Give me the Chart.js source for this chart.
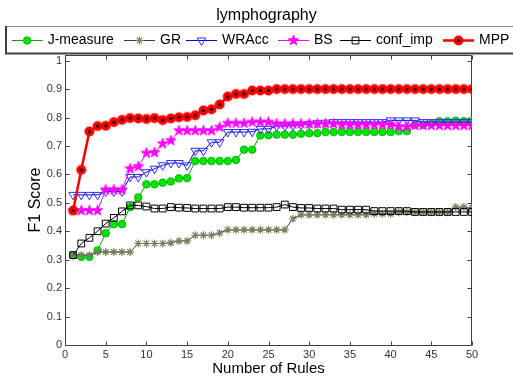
<!DOCTYPE html>
<html><head><meta charset="utf-8">
<script src="https://cdn.jsdelivr.net/npm/chart.js"></script>
<style>html,body{margin:0;padding:0;background:#fff;}canvas{display:block}</style>
</head><body>
<canvas id="c" width="513" height="379"></canvas>
<script>
const title = 'lymphography';
const seriesNames = ['J-measure','GR','WRAcc','BS','conf_imp','MPP'];
const rules = [1,2,3,4,5,6,7,8,9,10,11,12,13,14,15,16,17,18,19,20,21,22,23,24,25,26,27,28,29,30,31,32,33,34,35,36,37,38,39,40,41,42,43,44,45,46,47,48,49,50];
const jMeasure = [0.316,0.310,0.310,0.333,0.393,0.425,0.425,0.485,0.519,0.565,
  0.565,0.571,0.575,0.586,0.587,0.647,0.647,0.647,0.647,0.647,
  0.651,0.687,0.687,0.737,0.738,0.740,0.740,0.740,0.743,0.745,
  0.745,0.749,0.749,0.749,0.749,0.749,0.749,0.749,0.749,0.749,
  0.752,0.752,0.775,0.775,0.778,0.787,0.787,0.789,0.787,0.789];
const gr = [0.316,0.316,0.316,0.327,0.327,0.327,0.327,0.327,0.357,0.357,
  0.357,0.357,0.360,0.366,0.366,0.386,0.386,0.386,0.394,0.405,
  0.405,0.405,0.405,0.405,0.405,0.405,0.405,0.444,0.458,0.458,
  0.458,0.458,0.458,0.458,0.458,0.458,0.458,0.462,0.462,0.462,
  0.467,0.467,0.467,0.467,0.467,0.467,0.467,0.485,0.485,0.482];
const wracc = [0.528,0.528,0.528,0.528,0.540,0.540,0.540,0.591,0.591,0.608,
  0.620,0.632,0.640,0.640,0.632,0.683,0.683,0.713,0.713,0.749,
  0.749,0.749,0.750,0.760,0.760,0.770,0.770,0.772,0.775,0.778,
  0.780,0.782,0.784,0.784,0.784,0.784,0.784,0.784,0.784,0.790,
  0.790,0.790,0.790,0.784,0.784,0.784,0.784,0.784,0.784,0.784];
const bs = [0.473,0.473,0.473,0.473,0.546,0.546,0.546,0.620,0.628,0.675,
  0.677,0.708,0.719,0.754,0.754,0.754,0.754,0.754,0.766,0.780,
  0.780,0.780,0.784,0.784,0.784,0.778,0.778,0.778,0.778,0.778,
  0.778,0.778,0.778,0.775,0.775,0.775,0.775,0.775,0.775,0.775,
  0.768,0.768,0.772,0.772,0.772,0.772,0.772,0.772,0.772,0.772];
const confImp = [0.316,0.357,0.377,0.400,0.427,0.447,0.470,0.491,0.491,0.487,
  0.480,0.480,0.485,0.483,0.482,0.480,0.480,0.480,0.480,0.485,
  0.485,0.483,0.483,0.483,0.483,0.485,0.494,0.485,0.482,0.482,
  0.480,0.480,0.480,0.476,0.476,0.476,0.476,0.471,0.471,0.471,
  0.471,0.471,0.468,0.468,0.468,0.468,0.468,0.468,0.468,0.468];
const mpp = [0.473,0.616,0.751,0.770,0.771,0.784,0.792,0.798,0.797,0.795,
  0.798,0.791,0.797,0.801,0.802,0.808,0.825,0.829,0.846,0.874,
  0.883,0.883,0.895,0.895,0.895,0.900,0.900,0.900,0.900,0.900,
  0.900,0.900,0.900,0.900,0.900,0.900,0.900,0.900,0.900,0.900,
  0.900,0.900,0.900,0.900,0.900,0.900,0.900,0.900,0.900,0.900];
const xTicks = [0,5,10,15,20,25,30,35,40,45,50];
const yTicks = [0,0.1,0.2,0.3,0.4,0.5,0.6,0.7,0.8,0.9,1];

const FONT = 'Arial, "Liberation Sans", Helvetica, sans-serif';

function markerCanvas(size, draw){
  const c = document.createElement('canvas'); c.width = size; c.height = size;
  const g = c.getContext('2d'); draw(g, size/2); return c;
}
const starImg = markerCanvas(13, (g,c)=>{
  g.beginPath();
  for(let k=0;k<10;k++){ const r = k%2 ? 2.3 : 5.6; const a = -Math.PI/2 + k*Math.PI/5;
    g.lineTo(c + r*Math.cos(a), c + r*Math.sin(a)); }
  g.closePath(); g.fillStyle = '#ff00ff'; g.fill();
  g.strokeStyle = '#ff00ff'; g.lineWidth = 0.8; g.stroke();
});
const mppImg = markerCanvas(13, (g,c)=>{
  g.beginPath(); g.arc(c,c,5,0,2*Math.PI); g.fillStyle = '#ff0000'; g.fill();
  g.beginPath(); g.arc(c,c,1.6,0,2*Math.PI); g.fillStyle = '#000'; g.fill();
});

const pts = arr => rules.map((r,i)=>({x:r, y:arr[i]}));

const datasets = [
  {label:seriesNames[0], data:pts(jMeasure), borderColor:'#00a000', borderWidth:1,
   pointStyle:'circle', pointRadius:3.8, pointBackgroundColor:'#00e600', pointBorderColor:'#00a800', pointBorderWidth:0.8, order:6},
  {label:seriesNames[1], data:pts(gr), borderColor:'#3a3a3a', borderWidth:1,
   pointStyle:'star', pointRadius:4, pointBackgroundColor:'rgba(0,0,0,0)', pointBorderColor:'#7d7d5e', pointBorderWidth:1.2, order:5},
  {label:seriesNames[2], data:pts(wracc), borderColor:'#0000ff', borderWidth:1,
   pointStyle:'triangle', pointRotation:180, pointRadius:5, pointBackgroundColor:'rgba(255,255,255,0)', pointBorderColor:'#3030ff', pointBorderWidth:1, order:4},
  {label:seriesNames[3], data:pts(bs), borderColor:'#ff00ff', borderWidth:1,
   pointStyle:starImg, pointRadius:5, order:3},
  {label:seriesNames[4], data:pts(confImp), borderColor:'#000000', borderWidth:1,
   pointStyle:'rect', pointRadius:4.8, pointBackgroundColor:'rgba(0,0,0,0)', pointBorderColor:'#000', pointBorderWidth:1, order:2},
  {label:seriesNames[5], data:pts(mpp), borderColor:'#ff0000', borderWidth:2.5,
   pointStyle:mppImg, pointRadius:5, order:1}
];
datasets.forEach(d=>{ d.fill=false; d.tension=0; d.pointHoverRadius=d.pointRadius; });

const axesBox = {
  id:'axesBox',
  beforeDatasetsDraw(chart){
    const {ctx, chartArea:a, scales:{x, y}} = chart;
    const L = Math.round(a.left)+0.5, R = Math.round(a.right)-0.5, T = Math.round(a.top)+0.5, B = Math.round(a.bottom)+0.5;
    ctx.save();
    ctx.strokeStyle = '#404040'; ctx.lineWidth = 1;
    ctx.beginPath(); ctx.rect(L, T, R-L, B-T); ctx.stroke();
    ctx.beginPath();
    xTicks.forEach(v=>{ const p = Math.round(x.getPixelForValue(v))+0.5;
      ctx.moveTo(p,B); ctx.lineTo(p,B-4); ctx.moveTo(p,T); ctx.lineTo(p,T+4); });
    yTicks.forEach(v=>{ const p = Math.round(y.getPixelForValue(v))+0.5;
      ctx.moveTo(L,p); ctx.lineTo(L+4,p); ctx.moveTo(R,p); ctx.lineTo(R-4,p); });
    ctx.stroke();
    ctx.restore();
  }
};

function drawMarker(ctx, ds, x, y){
  const st = ds.pointStyle, r = ds.pointRadius;
  ctx.save();
  if (typeof st !== 'string') { ctx.drawImage(st, x - st.width/2, y - st.height/2); ctx.restore(); return; }
  ctx.strokeStyle = ds.pointBorderColor; ctx.fillStyle = ds.pointBackgroundColor; ctx.lineWidth = ds.pointBorderWidth;
  ctx.beginPath();
  if (st === 'circle') { ctx.arc(x,y,r,0,2*Math.PI); ctx.fill(); ctx.stroke(); }
  else if (st === 'rect') { const s = Math.SQRT1_2*r; ctx.rect(x-s,y-s,2*s,2*s); ctx.stroke(); }
  else if (st === 'triangle') { for (let k=0;k<3;k++){ const a = Math.PI + k*2*Math.PI/3; ctx.lineTo(x + Math.sin(a)*r, y - Math.cos(a)*r); } ctx.closePath(); ctx.stroke(); }
  else if (st === 'star') { for (let k=0;k<4;k++){ const a = k*Math.PI/4; ctx.moveTo(x - Math.cos(a)*r, y - Math.sin(a)*r); ctx.lineTo(x + Math.cos(a)*r, y + Math.sin(a)*r); } ctx.stroke(); }
  ctx.restore();
}

const legendX = [11.7,124,186,278,340,443];
const titleAndLegend = {
  id:'titleAndLegend',
  afterDraw(chart){
    const ctx = chart.ctx, a = chart.chartArea;
    ctx.save();
    // title, centred over the plot box
    ctx.fillStyle = '#000'; ctx.font = '16px ' + FONT; ctx.textAlign = 'center'; ctx.textBaseline = 'middle';
    ctx.fillText(title, (a.left + a.right)/2 - 2, 16);
    // legend box
    ctx.fillStyle = '#fff'; ctx.fillRect(5, 26, 520, 28);
    ctx.strokeStyle = '#8a8a8a'; ctx.lineWidth = 1;
    ctx.beginPath(); ctx.moveTo(5, 26.5); ctx.lineTo(520, 26.5); ctx.stroke();
    ctx.strokeStyle = '#404040'; ctx.lineWidth = 2;
    ctx.beginPath(); ctx.moveTo(6, 26); ctx.lineTo(6, 54); ctx.moveTo(5, 53.5); ctx.lineTo(520, 53.5); ctx.stroke();
    const cy = 40;
    chart.data.datasets.forEach((ds,i)=>{
      const x0 = legendX[i], x1 = x0 + 31;
      ctx.strokeStyle = ds.borderColor; ctx.lineWidth = ds.borderWidth;
      ctx.beginPath(); ctx.moveTo(x0, cy+0.5); ctx.lineTo(x1, cy+0.5); ctx.stroke();
      drawMarker(ctx, ds, (x0+x1)/2, cy+0.5);
      ctx.fillStyle = '#000'; ctx.font = '14px ' + FONT; ctx.textBaseline = 'middle'; ctx.textAlign = 'left';
      ctx.fillText(ds.label, x0 + 36, cy);
    });
    ctx.restore();
  }
};

new Chart(document.getElementById('c'), {
  type:'line',
  data:{datasets},
  plugins:[axesBox, titleAndLegend],
  options:{
    responsive:false, animation:false, devicePixelRatio:1,
    layout:{padding:{left:0, right:41, top:55, bottom:0}},
    plugins:{ legend:{display:false}, tooltip:{enabled:false}, title:{display:false} },
    scales:{
      x:{type:'linear', min:0, max:50,
        afterBuildTicks:s=>{ s.ticks = xTicks.map(v=>({value:v})); },
        afterFit:s=>{ s.height = 34; },
        grid:{display:false, drawTicks:false}, border:{display:false},
        ticks:{font:{family:FONT, size:11}, color:'#333344', padding:3, maxRotation:0, autoSkip:false, callback:v=>String(v)},
        title:{display:true, text:'Number of Rules', color:'#000', font:{family:FONT, size:15}, padding:{top:0, bottom:1}}
      },
      y:{type:'linear', min:0, max:1.02,
        afterBuildTicks:s=>{ s.ticks = yTicks.map(v=>({value:v})); },
        afterFit:s=>{ s.width = 65; },
        grid:{display:false, drawTicks:false}, border:{display:false},
        ticks:{font:{family:FONT, size:11}, color:'#333344', padding:3, autoSkip:false, callback:v=>String(Math.round(v*10)/10)},
        title:{display:true, text:'F1 Score', color:'#000', font:{family:FONT, size:16}, padding:{top:26, bottom:0}}
      }
    }
  }
});
</script>
</body></html>
